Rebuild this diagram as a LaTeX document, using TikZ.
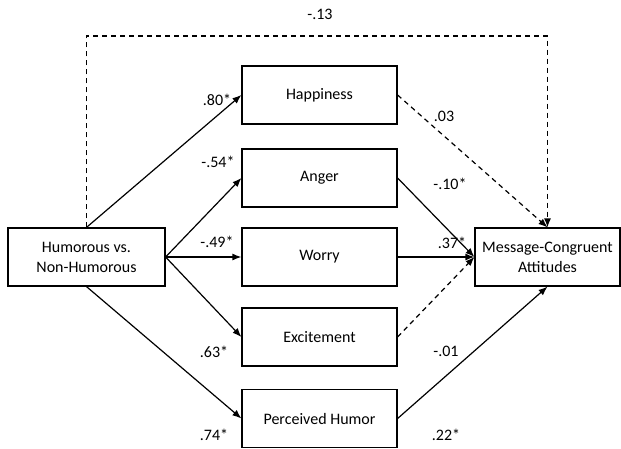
\documentclass[tikz,border=0pt]{standalone}
\usepackage{fontspec}
\setmainfont{Carlito}
\usetikzlibrary{arrows.meta}

\tikzset{
  box/.style={draw,line width=1.2pt,minimum width=155pt,minimum height=58pt,align=center,inner sep=0pt,font=\fontsize{16}{20}\selectfont},
  coef/.style={font=\fontsize{16}{20}\selectfont,inner sep=1pt},
  path/.style={line width=1.2pt,-{Latex[length=9pt,width=7pt]}},
  ns/.style={path,dash pattern=on 5pt off 4pt}
}

\begin{document}
\begin{tikzpicture}[x=1pt,y=-1pt]
   \useasboundingbox (0,0) rectangle (621,448);

   \node[box,minimum width=157pt] (hum) at (86.5,257) {Humorous vs.\\Non-Humorous};
   \node[box] (happy) at (319.5,95) {Happiness};
   \node[box] (anger) at (319.5,178) {Anger};
   \node[box] (worry) at (319.5,257) {Worry};
   \node[box] (excite) at (319.5,337) {Excitement};
   \node[box] (phumor) at (319.5,418.5) {Perceived Humor};
   \node[box,minimum width=145pt] (msg) at (547.5,257) {Message-Congruent\\Attitudes};

   \coordinate (top) at (320,36);

   \draw[ns] (hum.north) |- (top) -| (msg.north);
   \draw[path] (hum.north) -- (happy.west);
   \draw[path] (hum.east) -- (anger.west);
   \draw[path] (hum.east) -- (worry.west);
   \draw[path] (hum.east) -- (excite.west);
   \draw[path] (hum.south) -- (phumor.west);

   \draw[ns] (happy.east) -- (msg.north);
   \draw[path] (anger.east) -- (msg.west);
   \draw[path] (worry.east) -- (msg.west);
   \draw[ns] (excite.east) -- (msg.west);
   \draw[path] (phumor.east) -- (msg.south);

   \node[coef] (c13) at (320,14) {-.13};
   \node[coef] (c80) at (217,100) {.80*};
   \node[coef] (c03) at (444,116) {.03};
   \node[coef] (c54) at (218,162) {-.54*};
   \node[coef] (c10) at (450,184) {-.10*};
   \node[coef] (c49) at (217,242) {-.49*};
   \node[coef] (c37) at (452,243) {.37*};
   \node[coef] (c63) at (214,352) {.63*};
   \node[coef] (c01) at (446,351) {-.01};
   \node[coef] (c74) at (214,435) {.74*};
   \node[coef] (c22) at (446,435) {.22*};
\end{tikzpicture}
\end{document}
